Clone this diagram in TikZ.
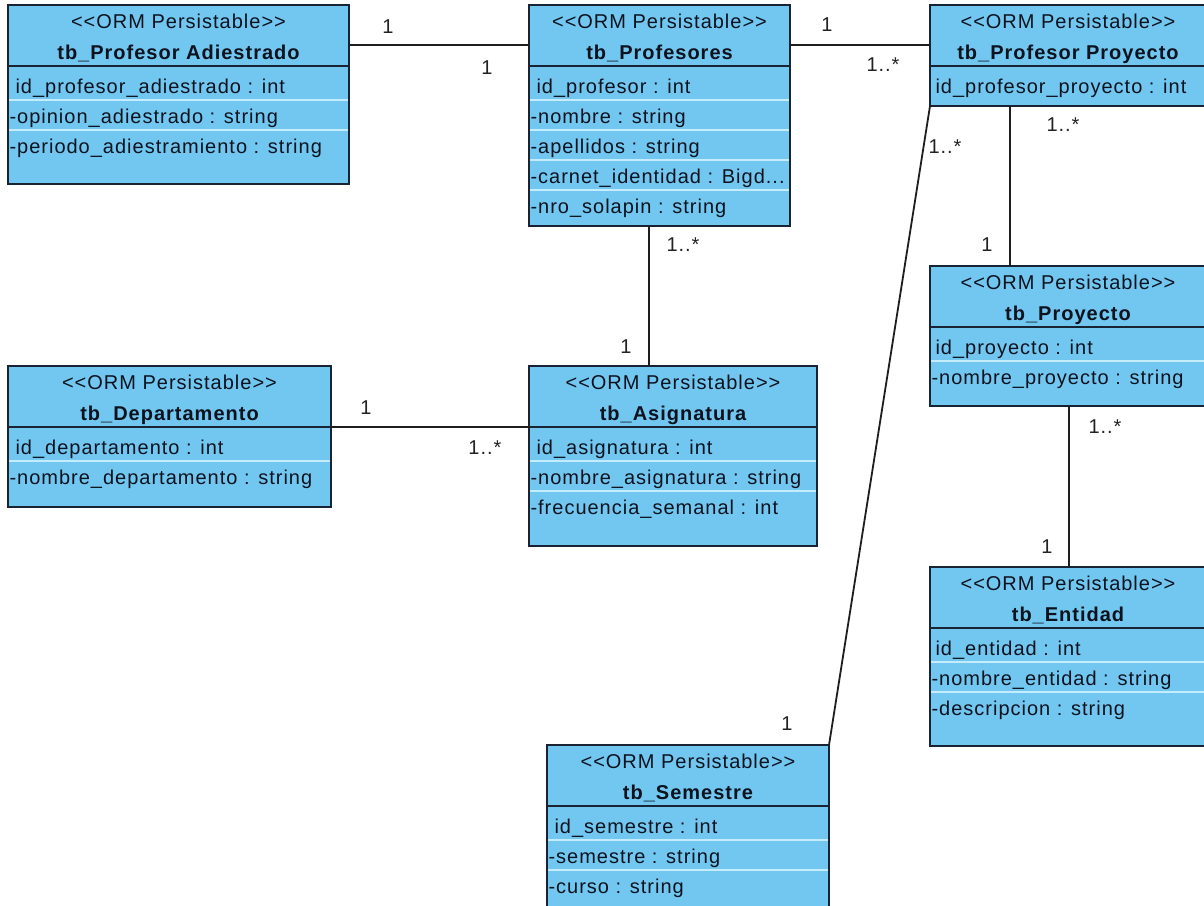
\documentclass[tikz,border=0pt]{standalone}
\usepackage{fontspec}
\setmainfont{Liberation Sans}[LetterSpace=5]
\usetikzlibrary{calc}

\definecolor{classfill}{RGB}{114,199,240}
\definecolor{boxline}{RGB}{24,36,52}
\definecolor{rowline}{RGB}{196,236,252}
\definecolor{textdark}{RGB}{12,18,30}
\definecolor{wire}{RGB}{30,30,30}
\definecolor{multcol}{RGB}{34,34,34}

% ORM class: #1 name, #2 left, #3 top, #4 width, #5 height, #6 title, #7 attribute rows
\newcommand{\ormclass}[7]{%
  \node[classbox, minimum width=#4pt, minimum height=#5pt] (#1) at (#2,#3) {};
  \path (#1.north) ++(0,23) node[anchor=base] (#1-st) {<{}<ORM Persistable>{}>};
  \path (#1.north) ++(0,54) node[anchor=base, font=\fontsize{20}{24}\selectfont\bfseries] (#1-nm) {#6};
  \foreach \r [count=\i] in {#7} {
    \ifnum\i>1
      \draw[rowsep] ($(#1.north west)+(1,95+30*\i-60)$) -- ++(#4-2,0);
    \fi
    \node[anchor=base west] at ($(#1.north west)+(1.5,88+30*\i-30)$) {\r};
  }
  \draw[headsep] ($(#1.north west)+(0,61)$) -- ++(#4,0);
  \node[classbox, fill=none, minimum width=#4pt, minimum height=#5pt] at (#2,#3) {};
}

\begin{document}
\begin{tikzpicture}[x=1pt,y=-1pt,
  every node/.style={font=\fontsize{20}{24}\selectfont, text=textdark, inner sep=0pt, outer sep=0pt},
  classbox/.style={draw=boxline, line width=2pt, fill=classfill, rectangle, anchor=north west},
  headsep/.style={draw=boxline, line width=2pt},
  rowsep/.style={draw=rowline, line width=1.6pt},
  assoc/.style={draw=wire, line width=1.8pt},
  mult/.style={text=multcol, anchor=center}]

\useasboundingbox (0,0) rectangle (1204,905);
\fill[white] (0,0) rectangle (1204,905);
\clip (0,0) rectangle (1204,905);

\ormclass{adie}{8}{5}{341}{179}{tb\_Profesor Adiestrado}
  {{\hspace*{6pt}id\_profesor\_adiestrado : int},{-opinion\_adiestrado : string},{-periodo\_adiestramiento : string}}
\ormclass{prof}{529}{5}{261}{221}{tb\_Profesores}
  {{\hspace*{6pt}id\_profesor : int},{-nombre : string},{-apellidos : string},{-carnet\_identidad : Bigd.{}.{}.},{-nro\_solapin : string}}
\ormclass{pproy}{930}{5}{276}{101}{tb\_Profesor Proyecto}
  {{\hspace*{4pt}id\_profesor\_proyecto : int}}
\ormclass{proy}{930}{266}{276}{140}{tb\_Proyecto}
  {{\hspace*{4pt}id\_proyecto : int},{-nombre\_proyecto : string}}
\ormclass{asig}{529}{366}{288}{180}{tb\_Asignatura}
  {{\hspace*{6pt}id\_asignatura : int},{-nombre\_asignatura : string},{-frecuencia\_semanal : int}}
\ormclass{dep}{8}{366}{323}{141}{tb\_Departamento}
  {{\hspace*{6pt}id\_departamento : int},{-nombre\_departamento : string}}
\ormclass{ent}{930}{567}{276}{179}{tb\_Entidad}
  {{\hspace*{4pt}id\_entidad : int},{-nombre\_entidad : string},{-descripcion : string}}
\ormclass{sem}{547}{745}{282}{180}{tb\_Semestre}
  {{\hspace*{6pt}id\_semestre : int},{-semestre : string},{-curso : string}}

% associations
\draw[assoc] ([yshift=-40pt]adie.north east) -- ([yshift=-40pt]prof.north west);
\draw[assoc] ([yshift=-40pt]prof.north east) -- ([yshift=-40pt]pproy.north west);
\draw[assoc] ([xshift=-10.5pt]prof.south) -- ([xshift=-10.5pt]prof.south |- asig.north);
\draw[assoc] ([yshift=-61pt]dep.north east) -- ([yshift=-61pt]asig.north west);
\draw[assoc] ([xshift=80pt]pproy.south west) -- ([xshift=80pt]proy.north west);
\draw[assoc] ([xshift=139pt]proy.south west) -- ([xshift=139pt]ent.north west);
\draw[assoc] (pproy.south west) -- (sem.north east);

% multiplicities
\node[mult] (m1)  at (388,27)   {1};
\node[mult] (m2)  at (487,68)   {1};
\node[mult] (m3)  at (827,25)   {1};
\node[mult] (m4)  at (883,65)   {1..*};
\node[mult] (m5)  at (683,245)  {1..*};
\node[mult] (m6)  at (626,347)  {1};
\node[mult] (m7)  at (366,408)  {1};
\node[mult] (m8)  at (485,448)  {1..*};
\node[mult] (m9)  at (1063,125) {1..*};
\node[mult] (m10) at (945,147)  {1..*};
\node[mult] (m11) at (987,245)  {1};
\node[mult] (m12) at (1105,427) {1..*};
\node[mult] (m13) at (1047,547) {1};
\node[mult] (m14) at (787,724)  {1};
\end{tikzpicture}
\end{document}
